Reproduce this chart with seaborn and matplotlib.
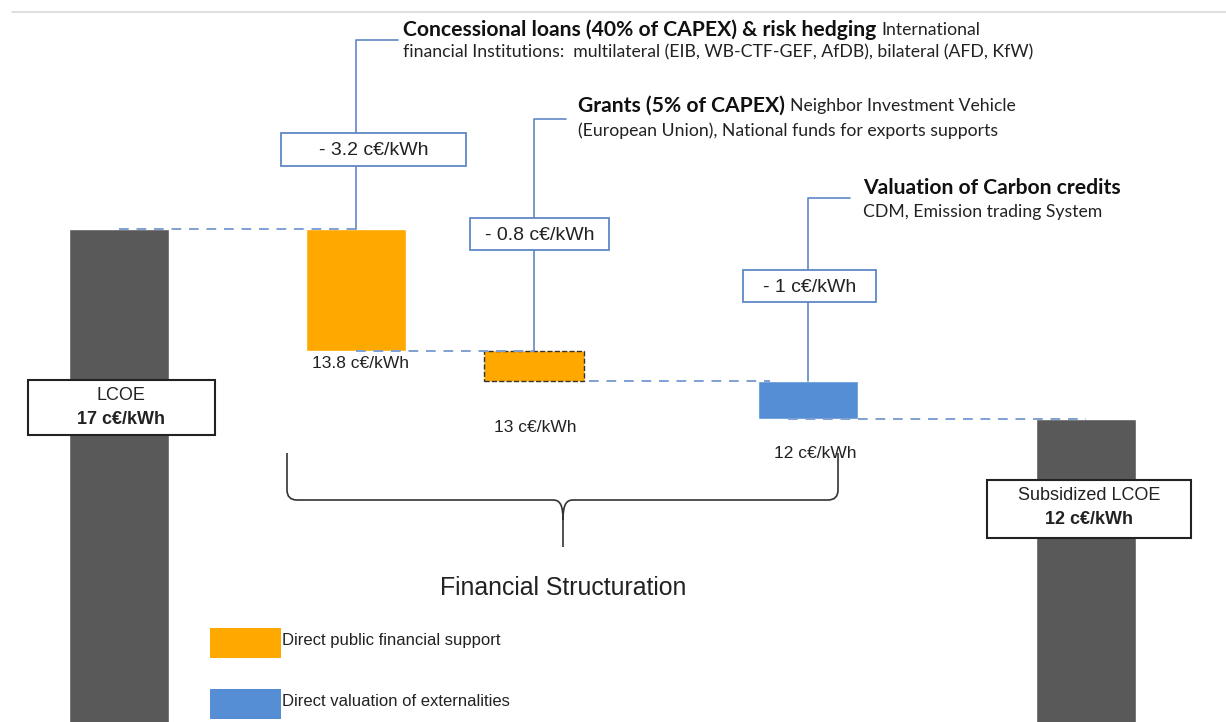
import numpy as np
import pandas as pd
import matplotlib.pyplot as plt
import seaborn as sns
from matplotlib.patches import Rectangle, PathPatch
from matplotlib.path import Path

# Données du graphique (c€/kWh)
etapes = ["LCOE", "Concessional loans", "Grants", "Carbon credits", "Subsidized LCOE"]
haut = [17, 17, 13.8, 13, 12]
bas = [0, 13.8, 13, 12, 0]
types = ["total", "public", "public", "externalite", "total"]

titres = ["Concessional loans (40% of CAPEX) & risk hedging",
          "Grants (5% of CAPEX)",
          "Valuation of Carbon credits"]
details = [["International",
            "financial Institutions:  multilateral (EIB, WB-CTF-GEF, AfDB), bilateral (AFD, KfW)"],
           ["Neighbor Investment Vehicle",
            "(European Union), National funds for exports supports"],
           ["", "CDM, Emission trading System"]]
legende = ["Direct public financial support", "Direct valuation of externalities"]

sns.set_theme(style="white")
plt.rcParams["font.family"] = ["Liberation Sans", "DejaVu Sans"]

couleurs = {"total": "#595959", "public": "#FFA800", "externalite": "#558ED5"}
bleu_ligne = "#5F88C6"
bleu_tiret = "#7FA0D2"
CAL = ["Lato", "DejaVu Sans"]

W, H = 1226, 722
fig = plt.figure(figsize=(W / 100, H / 100), dpi=100)
ax = fig.add_axes([0, 0, 1, 1])

# échelle verticale : 17 -> pixel 229, 12 -> pixel 419
ppu = (419 - 229) / (17 - 12)
ytop = 17 + 229 / ppu
ybot = 17 - (H - 229) / ppu
ax.set_xlim(0, W)
ax.set_ylim(ybot, ytop)
ax.axis("off")


def vy(py):
    return ytop - py / ppu


def fx(px, py):
    return px / W, 1 - py / H


def T(px, py, s, **kw):
    return fig.text(px / W, 1 - py / H, s, **kw)


def boite(x0, y0, x1, y1, ec, lw=1.3, fc="white"):
    r = Rectangle(fx(x0, y1), (x1 - x0) / W, (y1 - y0) / H, transform=fig.transFigure,
                  facecolor=fc, edgecolor=ec, linewidth=lw, zorder=5)
    fig.add_artist(r)


xpos = [119, 356, 534, 808, 1086]
largeur = 100

# barres
for i in range(len(etapes)):
    kw = dict(color=couleurs[types[i]], width=largeur, zorder=2)
    if etapes[i] == "Grants":
        kw.update(edgecolor="#333333", linestyle="--", linewidth=1)
    ax.bar(xpos[i], haut[i] - bas[i], bottom=bas[i], **kw)

# lignes pointillées entre les barres
debut = [xpos[0], xpos[1], xpos[2] + largeur / 2 + 5, xpos[3] - 20]
fin = [xpos[1], xpos[2], xpos[3] - 38, xpos[4]]
for i in range(4):
    ax.plot([debut[i], fin[i]], [haut[i + 1]] * 2, color=bleu_tiret, lw=1.4,
            dashes=(5, 4), zorder=3)

# traits de rappel vers les commentaires
rappel_y = [40, 119, 198]
rappel_x2 = [398, 566, 850]
for k, i in enumerate([1, 2, 3]):
    ax.plot([xpos[i], xpos[i], rappel_x2[k]], [haut[i], vy(rappel_y[k]), vy(rappel_y[k])],
            color=bleu_ligne, lw=1.2, zorder=3)

# boîtes des réductions
baisses = [haut[i] - bas[i] for i in [1, 2, 3]]
cadres = [(281, 133, 466, 166), (470, 218, 609, 250), (743, 270, 876, 302)]
for d, (x0, y0, x1, y1) in zip(baisses, cadres):
    boite(x0, y0, x1, y1, bleu_ligne)
    T((x0 + x1) / 2, (y0 + y1) / 2 + 1, f"- {round(d, 1):g} c€/kWh", ha="center", va="center",
      fontsize=14, color="#222222", zorder=6)

# valeurs intermédiaires
pos_val = [(360, 363), (535, 427), (815, 453)]
for i, (px, py) in zip([1, 2, 3], pos_val):
    T(px, py, f"{bas[i]:g} c€/kWh", ha="center", va="center", fontsize=12.5, color="#222222")

# commentaires (titre gras + détail)
pos_com = [(403, 30, 52), (578, 106, 131), (863, 188, 212)]
fig.canvas.draw()
rend = fig.canvas.get_renderer()
for t, det, (px, py1, py2) in zip(titres, details, pos_com):
    tt = T(px, py1, t, fontweight="bold", fontsize=15.2, family=CAL, va="center", color="#111111")
    bb = tt.get_window_extent(renderer=rend)
    if det[0]:
        fig.text(bb.x1 / W + 5 / W, 1 - py1 / H, det[0], fontsize=12.7, family=CAL,
                 va="center", color="#222222")
    T(px, py2, det[1], fontsize=12.7, family=CAL, va="center", color="#222222")

# boîtes LCOE
boite(28, 380, 215, 435, "#222222", lw=1.5)
T(121, 396, etapes[0], ha="center", va="center", fontsize=13, color="#222222", zorder=6)
T(121, 419, f"{haut[0]:g} c€/kWh", ha="center", va="center", fontsize=13,
  fontweight="bold", color="#222222", zorder=6)
boite(987, 480, 1191, 538, "#222222", lw=1.5)
T(1089, 496, etapes[4], ha="center", va="center", fontsize=13, color="#222222", zorder=6)
T(1089, 520, f"{haut[4]:g} c€/kWh", ha="center", va="center", fontsize=13,
  fontweight="bold", color="#222222", zorder=6)

# accolade
pts = [(287, 453), (287, 490), (287, 500), (297, 500), (553, 500),
       (560, 500), (563, 505), (563, 520), (563, 547),
       (563, 520), (563, 505), (566, 500), (573, 500), (828, 500),
       (838, 500), (838, 490), (838, 453)]
codes = [Path.MOVETO, Path.LINETO, Path.CURVE3, Path.CURVE3, Path.LINETO,
         Path.CURVE4, Path.CURVE4, Path.CURVE4, Path.LINETO,
         Path.MOVETO, Path.CURVE4, Path.CURVE4, Path.CURVE4, Path.LINETO,
         Path.CURVE3, Path.CURVE3, Path.LINETO]
fig.add_artist(PathPatch(Path([fx(*p) for p in pts], codes), transform=fig.transFigure,
                         fill=False, edgecolor="#333333", lw=1.2))
T(563, 588, "Financial Structuration", ha="center", va="center", fontsize=17.9, color="#222222")

# légende
for k, (lab, c) in enumerate(zip(legende, [couleurs["public"], couleurs["externalite"]])):
    y0 = 628 + k * 61
    boite(210, y0, 281, y0 + 30, c, lw=0, fc=c)
    T(282, y0 + 12, lab, va="center", fontsize=12, color="#222222")

# ligne grise en haut
fig.add_artist(plt.Line2D([12 / W, 1], [1 - 12 / H] * 2, transform=fig.transFigure,
                          color="#D9D9D9", lw=1.2))

fig.savefig("out.png", dpi=100)
